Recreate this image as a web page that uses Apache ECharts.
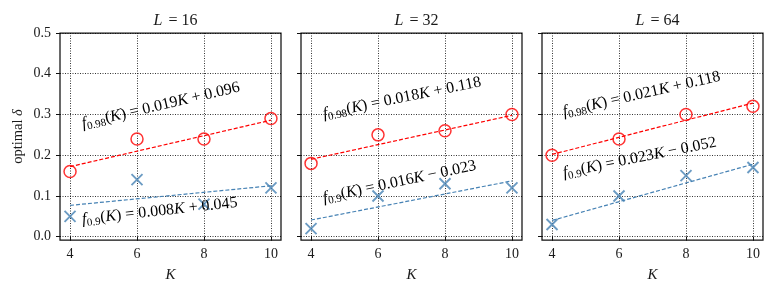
<!DOCTYPE html>
<html>
<head>
<meta charset="utf-8">
<script src="https://cdn.jsdelivr.net/npm/echarts@6/dist/echarts.min.js"></script>
<style>html,body{margin:0;padding:0;background:#fff}#c{width:775px;height:295px}</style>
</head>
<body>
<div id="c"></div>
<script>
// ---- data ----
const panelTitles = ['16', '32', '64'];
const kValues = [4, 6, 8, 10];
const xTicks = [4, 6, 8, 10];
const yTicks = [0, 0.1, 0.2, 0.3, 0.4, 0.5];

const red16 = [0.16, 0.24, 0.24, 0.29];
const blue16 = [0.05, 0.14, 0.08, 0.12];
const red32 = [0.18, 0.25, 0.26, 0.30];
const blue32 = [0.02, 0.10, 0.13, 0.12];
const red64 = [0.20, 0.24, 0.30, 0.32];
const blue64 = [0.03, 0.10, 0.15, 0.17];

// fitted dashed lines, endpoints at K=4 and K=10
const fitK = [4, 10];
const fitRed16 = [0.172, 0.286];
const fitBlue16 = [0.077, 0.125];
const fitRed32 = [0.190, 0.298];
const fitBlue32 = [0.041, 0.137];
const fitRed64 = [0.202, 0.328];
const fitBlue64 = [0.040, 0.178];

// annotations: [slope text, intercept text]
const eqRed16 = ['0.019', '+ 0.096'];
const eqBlue16 = ['0.008', '+ 0.045'];
const eqRed32 = ['0.018', '+ 0.118'];
const eqBlue32 = ['0.016', '\u2212 0.023'];
const eqRed64 = ['0.021', '+ 0.118'];
const eqBlue64 = ['0.023', '\u2212 0.052'];
// anchor positions in data coords (K, delta) and rotation in degrees
const annRed16 = [4.36, 0.277, 13.1];
const annBlue16 = [4.36, 0.042, 6.2];
const annRed32 = [4.36, 0.301, 11.5];
const annBlue32 = [4.36, 0.095, 12.0];
const annRed64 = [4.33, 0.306, 12.8];
const annBlue64 = [4.33, 0.156, 11.4];

const reds = [red16, red32, red64];
const blues = [blue16, blue32, blue64];
const fitReds = [fitRed16, fitRed32, fitRed64];
const fitBlues = [fitBlue16, fitBlue32, fitBlue64];
const eqReds = [eqRed16, eqRed32, eqRed64];
const eqBlues = [eqBlue16, eqBlue32, eqBlue64];
const annReds = [annRed16, annRed32, annRed64];
const annBlues = [annBlue16, annBlue32, annBlue64];

// ---- style ----
const FONT = 'Liberation Serif';
const RED = '#ff0000';
const BLUE = '#4682b4';
const TXT = '#1a1a1a';
const gridLefts = [60, 301, 542];
const GW = 221, GT = 33, GH = 207;

const chart = echarts.init(document.getElementById('c'), null, {renderer: 'canvas'});

const grids = [], xAxes = [], yAxes = [], series = [], titles = [];
for (let i = 0; i < 3; i++) {
  grids.push({left: gridLefts[i], top: GT, width: GW, height: GH, show: true,
    borderColor: '#111', borderWidth: 1.25, backgroundColor: 'transparent'});
  xAxes.push({
    type: 'value', gridIndex: i, min: 3.7, max: 10.3,
    name: 'K', nameLocation: 'middle', nameGap: 28,
    nameTextStyle: {fontFamily: FONT, fontStyle: 'italic', fontSize: 15, color: TXT},
    axisLine: {show: false},
    axisTick: {show: true, inside: false, length: 4, customValues: xTicks, lineStyle: {color: '#111', width: 1}},
    axisLabel: {show: true, customValues: xTicks, fontFamily: FONT, fontSize: 14, color: TXT, margin: 7},
    splitLine: {show: true, lineStyle: {color: '#000', type: [1, 1.5], width: 0.8}}
  });
  yAxes.push({
    type: 'value', gridIndex: i, min: -0.008, max: 0.5,
    name: i === 0 ? '{r|optimal }{i|\u03b4}' : '', nameLocation: 'middle', nameGap: 34, nameRotate: 90,
    nameTextStyle: {fontFamily: FONT, fontSize: 14, color: TXT,
      rich: {r: {fontFamily: FONT, fontSize: 14.5, color: TXT}, i: {fontFamily: FONT, fontStyle: 'italic', fontSize: 14.5, color: TXT}}},
    axisLine: {show: false},
    axisTick: {show: true, inside: false, length: 4, customValues: yTicks, lineStyle: {color: '#111', width: 1}},
    axisLabel: {show: i === 0, customValues: yTicks, fontFamily: FONT, fontSize: 14, color: TXT, margin: 9,
      formatter: v => v.toFixed(1)},
    splitLine: {show: true, lineStyle: {color: '#000', type: [1, 1.5], width: 0.8}}
  });
  titles.push({
    text: '{i|L} = ' + panelTitles[i], left: gridLefts[i] + GW / 2, top: 8, textAlign: 'center',
    textStyle: {fontFamily: FONT, fontSize: 16, fontWeight: 'normal', color: TXT,
      rich: {i: {fontFamily: FONT, fontStyle: 'italic', fontSize: 16, color: TXT, padding: [0, 2, 0, 0]}}}
  });
  series.push({
    type: 'line', xAxisIndex: i, yAxisIndex: i, silent: true, symbol: 'none',
    data: fitK.map((k, j) => [k, fitReds[i][j]]),
    lineStyle: {color: RED, width: 1.2, type: [4, 2]}, z: 3
  });
  series.push({
    type: 'line', xAxisIndex: i, yAxisIndex: i, silent: true, symbol: 'none',
    data: fitK.map((k, j) => [k, fitBlues[i][j]]),
    lineStyle: {color: BLUE, width: 1.2, type: [4, 2]}, z: 3
  });
  series.push({
    type: 'scatter', xAxisIndex: i, yAxisIndex: i, symbol: 'circle', symbolSize: 12,
    data: kValues.map((k, j) => [k, reds[i][j]]),
    itemStyle: {color: 'rgba(0,0,0,0)', borderColor: RED, borderWidth: 1.5}, z: 4
  });
  series.push({
    type: 'scatter', xAxisIndex: i, yAxisIndex: i, symbol: 'path://M0,0L10,10M10,0L0,10', symbolSize: 11,
    data: kValues.map((k, j) => [k, blues[i][j]]),
    itemStyle: {color: 'rgba(0,0,0,0)', borderColor: BLUE, borderWidth: 1.9}, z: 4
  });
}

chart.setOption({
  animation: false,
  backgroundColor: '#fff',
  title: titles,
  grid: grids, xAxis: xAxes, yAxis: yAxes, series: series
});

function eqText(sub, eq) {
  return '{it|f}{sub|' + sub + '}{rm|(}{it|K}{rm|) = ' + eq[0] + '}{it|K}{rm| ' + eq[1] + '}';
}
const rich = {
  it: {fontFamily: FONT, fontStyle: 'italic', fontSize: 16, color: TXT},
  rm: {fontFamily: FONT, fontSize: 16, color: TXT},
  sub: {fontFamily: FONT, fontSize: 11, color: TXT, padding: [8, 0, 0, 0]}
};
const graphics = [];
for (let i = 0; i < 3; i++) {
  [[annReds[i], eqText('0.98', eqReds[i])], [annBlues[i], eqText('0.9', eqBlues[i])]].forEach(([a, txt]) => {
    const p = chart.convertToPixel({xAxisIndex: i, yAxisIndex: i}, [a[0], a[1]]);
    graphics.push({
      type: 'text', x: p[0], y: p[1], rotation: a[2] * Math.PI / 180, z: 10,
      style: {text: txt, rich: rich, align: 'left', verticalAlign: 'middle'}
    });
  });
}
chart.setOption({graphic: graphics});
</script>
</body>
</html>
